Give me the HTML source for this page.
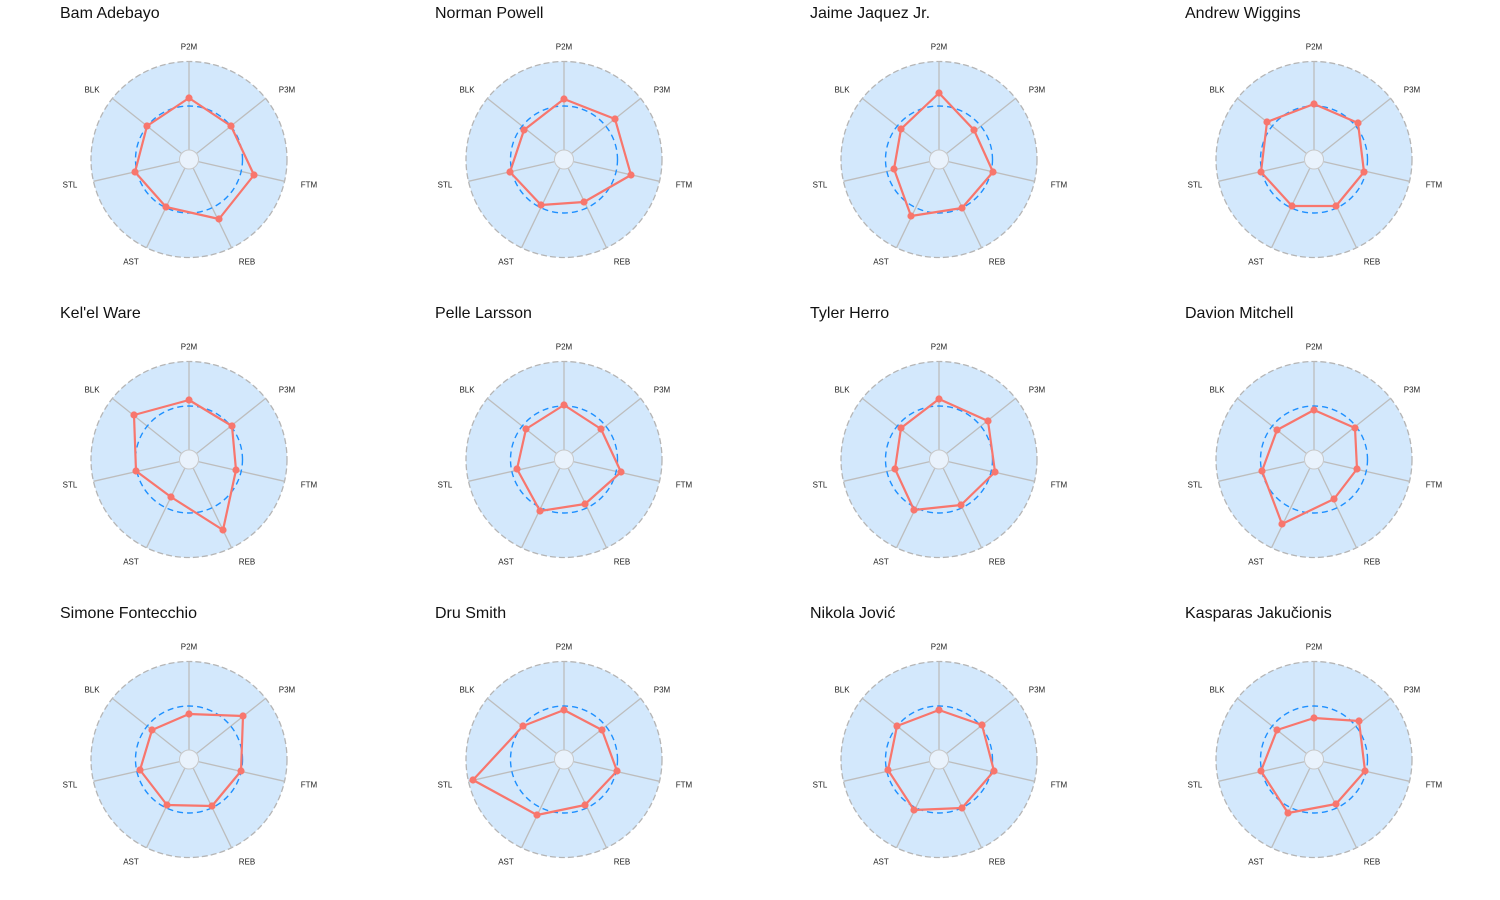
<!DOCTYPE html>
<html><head><meta charset="utf-8"><style>
body{margin:0;background:#fff;width:1500px;height:900px;overflow:hidden;font-family:"Liberation Sans",sans-serif}
.t{position:absolute;font-size:16px;color:#111;line-height:1}
svg{position:absolute;left:0;top:0}
</style></head><body>
<div class="t" style="left:60px;top:6px">Bam Adebayo</div>
<div class="t" style="left:435px;top:6px">Norman Powell</div>
<div class="t" style="left:810px;top:6px">Jaime Jaquez Jr.</div>
<div class="t" style="left:1185px;top:6px">Andrew Wiggins</div>
<div class="t" style="left:60px;top:306px">Kel'el Ware</div>
<div class="t" style="left:435px;top:306px">Pelle Larsson</div>
<div class="t" style="left:810px;top:306px">Tyler Herro</div>
<div class="t" style="left:1185px;top:306px">Davion Mitchell</div>
<div class="t" style="left:60px;top:606px">Simone Fontecchio</div>
<div class="t" style="left:435px;top:606px">Dru Smith</div>
<div class="t" style="left:810px;top:606px">Nikola Jović</div>
<div class="t" style="left:1185px;top:606px">Kasparas Jakučionis</div>
<svg id="s" width="1500" height="900" xmlns="http://www.w3.org/2000/svg"></svg>
<script>
var P=[
[[189,98],[231,126],[254,175],[219,219],[166,207],[135,172],[147,126]],
[[564,99],[615,119],[631,175],[584,202],[541,205],[510,172],[524,130]],
[[939,93],[974,130],[993,172],[962,208],[911,216],[894,169],[901,129]],
[[1314,104],[1358,123],[1364,172],[1336,206],[1292,206],[1261,172],[1267,122]],
[[189,400],[232,426],[236,470],[223,530],[171,497],[136,471],[134,415]],
[[564,405],[601,429],[621,472],[585,504],[540,511],[517,469],[526,429]],
[[939,399],[988,421],[995,472],[961,505],[914,510],[895,469],[901,428]],
[[1314,410],[1355,428],[1357,469],[1334,499],[1282,524],[1262,471],[1277,430]],
[[189,714],[243,716],[241,771],[212,806],[167,805],[140,770],[152,730]],
[[564,710],[602,730],[617,771],[585,805],[537,815],[473,780],[523,726]],
[[939,710],[982,725],[994,771],[962,808],[914,810],[888,770],[897,726]],
[[1314,718],[1359,721],[1365,771],[1336,804],[1288,813],[1261,771],[1277,730]]];
var L=["P2M","P3M","FTM","REB","AST","STL","BLK"];
var O=[[0,-113],[98,-70],[120,25],[58,102],[-58,102],[-119,25],[-97,-70]];
var h="";
for(var i=0;i<12;i++){
 var cx=189+375*(i%4), cy=159.5+300*Math.floor(i/4);
 h+='<circle cx="'+cx+'" cy="'+cy+'" r="98" fill="#d3e8fc" stroke="#b5b5b5" stroke-width="1.3" stroke-dasharray="6,3"/>';
 for(var k=0;k<7;k++){var a=k*2*Math.PI/7,s=Math.sin(a),c=-Math.cos(a);
  h+='<line x1="'+(cx+10*s)+'" y1="'+(cy+10*c)+'" x2="'+(cx+98*s)+'" y2="'+(cy+98*c)+'" stroke="#bdbdbd" stroke-width="1.3"/>';
  h+='<text x="'+(cx+O[k][0])+'" y="'+(cy+O[k][1]+3)+'" font-size="8" text-anchor="middle" fill="#222" font-family="Liberation Sans">'+L[k]+'</text>';}
 h+='<circle cx="'+cx+'" cy="'+cy+'" r="9.5" fill="#e9f2fc" stroke="#c8c8c8" stroke-width="1"/>';
 h+='<circle cx="'+cx+'" cy="'+cy+'" r="53.5" fill="none" stroke="#1e90ff" stroke-width="1.4" stroke-dasharray="6,4"/>';
 var pts=P[i].map(function(p){return p.join(",")}).join(" ");
 h+='<polygon points="'+pts+'" fill="none" stroke="#f8766d" stroke-width="2.2" stroke-linejoin="round"/>';
 P[i].forEach(function(p){h+='<circle cx="'+p[0]+'" cy="'+p[1]+'" r="3.6" fill="#f8766d"/>';});
}
document.getElementById("s").innerHTML=h;
</script>
</body></html>
